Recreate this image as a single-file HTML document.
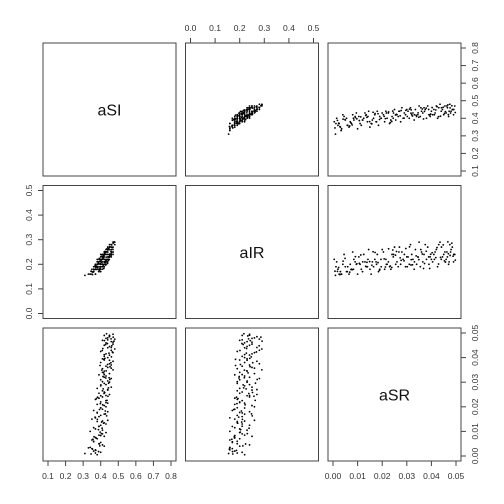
<!DOCTYPE html>
<html><head><meta charset="utf-8"><style>
html,body{margin:0;padding:0;background:#fff;}
svg{display:block;font-family:"Liberation Sans",sans-serif;}
</style></head><body>
<svg id="chart" width="504" height="504" viewBox="0 0 504 504"></svg>
<script>
const varNames = ["aSI","aIR","aSR"];
const varLims = [[0.1,0.8],[0,0.5],[0,0.05]];
const tickSI = [0.1,0.2,0.3,0.4,0.5,0.6,0.7,0.8];
const tickIR = [0.0,0.1,0.2,0.3,0.4,0.5];
const tickSR = [0.00,0.01,0.02,0.03,0.04,0.05];
const tickLabSI = ["0.1","0.2","0.3","0.4","0.5","0.6","0.7","0.8"];
const tickLabIR = ["0.0","0.1","0.2","0.3","0.4","0.5"];
const tickLabSR = ["0.00","0.01","0.02","0.03","0.04","0.05"];
const aSR = [0.001,0.002,0.0015,0.003,0.0005,0.004,0.0025,0.0035,0.005,0.0045,
0.006,0.0055,0.007,0.0065,0.008,0.0075,0.009,0.0085,0.010,0.0095,
0.011,0.0105,0.012,0.0115,0.013,0.0125,0.014,0.0135,0.015,0.0145,
0.016,0.0155,0.017,0.0165,0.018,0.0175,0.019,0.0185,0.020,0.0195,
0.021,0.0205,0.022,0.0215,0.023,0.0225,0.024,0.0235,0.025,0.0245,
0.026,0.0255,0.027,0.0265,0.028,0.0275,0.029,0.0285,0.030,0.0295,
0.031,0.0305,0.032,0.0315,0.033,0.0325,0.034,0.0335,0.035,0.0345,
0.036,0.0355,0.037,0.0365,0.038,0.0375,0.039,0.0385,0.040,0.0395,
0.041,0.0405,0.042,0.0415,0.043,0.0425,0.044,0.0435,0.045,0.0445,
0.046,0.0455,0.047,0.0465,0.048,0.0475,0.049,0.0485,0.0495,0.0478,
0.0012,0.0083,0.0142,0.0217,0.0268,0.0331,0.0389,0.0441,0.0472,0.0058,0.0177,0.0246,0.0302,0.0357,0.0412,0.0463,0.0033,0.0121,0.0196,0.0491,
0.0023,0.0041,0.0068,0.0091,0.0107,0.0133,0.0158,0.0171,0.0189,0.0208,
0.0226,0.0239,0.0254,0.0277,0.0289,0.0311,0.0323,0.0346,0.0368,0.0379,
0.0397,0.0418,0.0429,0.0448,0.0457,0.0469,0.0483,0.0488,0.0497,0.0008,
0.0049,0.0073,0.0113,0.0149,0.0183,0.0213,0.0243,0.0273,0.0317,0.0349,
0.0363,0.0393,0.0423,0.0453,0.0476,0.0028,0.0097,0.0163,0.0233,0.0296,
0.0338,0.0372,0.0403,0.0437,0.0467,0.0018,0.0078,0.0138,0.0258,0.0318];
const aSI = [0.31,0.36,0.40,0.35,0.38,0.42,0.37,0.34,0.39,0.41,
0.36,0.40,0.38,0.35,0.42,0.37,0.41,0.39,0.34,0.43,
0.37,0.41,0.39,0.36,0.43,0.40,0.38,0.42,0.35,0.44,
0.39,0.37,0.42,0.40,0.44,0.38,0.41,0.36,0.43,0.40,
0.38,0.42,0.40,0.44,0.37,0.43,0.41,0.39,0.45,0.40,
0.42,0.39,0.44,0.41,0.46,0.38,0.43,0.40,0.45,0.42,
0.40,0.44,0.42,0.46,0.39,0.43,0.41,0.45,0.47,0.42,
0.44,0.41,0.46,0.43,0.40,0.45,0.42,0.47,0.44,0.41,
0.45,0.42,0.47,0.43,0.46,0.40,0.44,0.48,0.42,0.45,
0.43,0.47,0.41,0.46,0.44,0.48,0.42,0.45,0.47,0.43,
0.37,0.40,0.41,0.43,0.44,0.42,0.45,0.46,0.44,0.36,0.38,0.43,0.41,0.46,0.42,0.47,0.33,0.39,0.40,0.45,
0.372,0.395,0.356,0.404,0.387,0.416,0.368,0.427,0.393,0.411,
0.436,0.382,0.419,0.444,0.401,0.452,0.413,0.431,0.396,0.458,
0.424,0.447,0.409,0.463,0.438,0.421,0.471,0.449,0.433,0.345,
0.392,0.374,0.408,0.381,0.426,0.398,0.441,0.414,0.429,0.406,
0.453,0.418,0.466,0.428,0.459,0.353,0.397,0.434,0.376,0.445,
0.417,0.439,0.461,0.412,0.476,0.388,0.362,0.405,0.423,0.448];
const aIR = [0.155,0.18,0.21,0.17,0.22,0.20,0.16,0.16,0.19,0.24,
0.19,0.17,0.20,0.16,0.25,0.18,0.21,0.22,0.16,0.20,
0.20,0.23,0.17,0.18,0.21,0.24,0.19,0.19,0.18,0.26,
0.21,0.16,0.22,0.19,0.24,0.21,0.18,0.17,0.26,0.22,
0.18,0.25,0.20,0.22,0.19,0.21,0.24,0.18,0.27,0.23,
0.21,0.20,0.27,0.19,0.25,0.20,0.24,0.22,0.23,0.19,
0.20,0.23,0.24,0.28,0.18,0.22,0.20,0.26,0.29,0.23,
0.25,0.19,0.24,0.21,0.22,0.28,0.20,0.27,0.22,0.23,
0.24,0.21,0.26,0.25,0.28,0.19,0.22,0.29,0.24,0.23,
0.22,0.25,0.20,0.23,0.26,0.28,0.21,0.27,0.24,0.25,
0.19,0.18,0.22,0.20,0.25,0.21,0.23,0.27,0.21,0.17,0.20,0.24,0.19,0.26,0.22,0.25,0.16,0.21,0.19,0.24,
0.187,0.213,0.168,0.231,0.204,0.192,0.196,0.248,0.176,0.222,
0.263,0.187,0.237,0.216,0.214,0.271,0.198,0.229,0.183,0.253,
0.241,0.227,0.201,0.279,0.209,0.243,0.286,0.233,0.217,0.172,
0.224,0.179,0.238,0.211,0.207,0.189,0.258,0.226,0.197,0.219,
0.242,0.183,0.268,0.214,0.236,0.158,0.202,0.251,0.193,0.264,
0.234,0.203,0.247,0.228,0.291,0.171,0.178,0.208,0.252,0.219];

const NS="http://www.w3.org/2000/svg";
const svg=document.getElementById('chart');
const data=[aSI,aIR,aSR];
const ticks=[tickSI,tickIR,tickSR];
const tickLabs=[tickLabSI,tickLabIR,tickLabSR];
const P0=[43,185.5,328], PS=133, IN0=5, IN1=128;
function el(tag,attrs){const e=document.createElementNS(NS,tag);for(const k in attrs)e.setAttribute(k,attrs[k]);svg.appendChild(e);return e;}
function sx(v,col){const l=varLims[col];return P0[col]+IN0+(v-l[0])/(l[1]-l[0])*(IN1-IN0);}
function sy(v,row){const l=varLims[row];return P0[row]+PS-IN0-(v-l[0])/(l[1]-l[0])*(IN1-IN0);}

for(let r=0;r<3;r++)for(let c=0;c<3;c++){
  const box=el('rect',{x:P0[c],y:P0[r],width:PS,height:PS,fill:'none',stroke:'#444','stroke-width':1});
  
  
  if(r===c){
    const t=el('text',{x:P0[c]+PS/2,y:P0[r]+PS/2+6,'text-anchor':'middle','font-size':16,fill:'#111'});
    t.textContent=varNames[r];
    
    
  } else {
    const xs=data[c], ys=data[r];
    for(let i=0;i<xs.length;i++){
      const p=el('circle',{cx:sx(xs[i],c),cy:sy(ys[i],r),r:0.9,fill:'#000'});
      
      
    }
  }
}
function axis(side,k){
  const g=document.createElementNS(NS,'g');svg.appendChild(g);
  
  
  const tv=ticks[k], tl=tickLabs[k];
  const add=(tag,a)=>{const e=document.createElementNS(NS,tag);for(const q in a)e.setAttribute(q,a[q]);g.appendChild(e);return e;};
  if(side==='top'||side==='bottom'){
    const y0=side==='top'?P0[0]:P0[2]+PS, dir=side==='top'?-1:1;
    add('line',{x1:sx(tv[0],k),x2:sx(tv[tv.length-1],k),y1:y0,y2:y0,stroke:'#444'});
    tv.forEach((v,i)=>{const x=sx(v,k);
      add('line',{x1:x,x2:x,y1:y0,y2:y0+dir*5,stroke:'#444'});
      const t=add('text',{x:x,y:y0+dir*15+3,'text-anchor':'middle','font-size':8.5,fill:'#333'});t.textContent=tl[i];});
  } else {
    const x0=side==='left'?P0[0]:P0[2]+PS, dir=side==='left'?-1:1;
    add('line',{y1:sy(tv[0],k),y2:sy(tv[tv.length-1],k),x1:x0,x2:x0,stroke:'#444'});
    tv.forEach((v,i)=>{const y=sy(v,k);
      add('line',{y1:y,y2:y,x1:x0,x2:x0+dir*5,stroke:'#444'});
      const cx=x0+dir*14+3;
      const t=add('text',{x:cx,y:y,'text-anchor':'middle','font-size':8.5,fill:'#333',transform:'rotate(-90 '+cx+' '+y+')'});t.textContent=tl[i];});
  }
}
axis('top',1);axis('bottom',0);axis('bottom',2);
axis('left',1);axis('right',0);axis('right',2);
</script>
</body></html>
